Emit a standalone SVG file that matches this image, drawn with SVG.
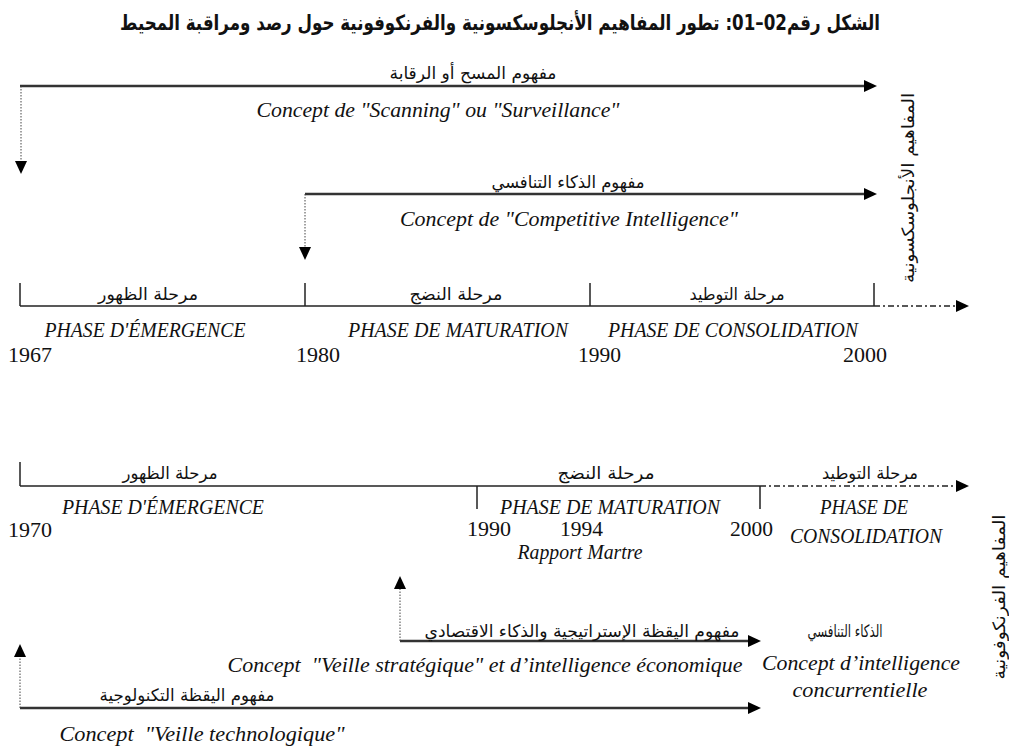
<svg xmlns="http://www.w3.org/2000/svg" width="1009" height="749" viewBox="0 0 1009 749">
<style>
  .ar { font-family: "DejaVu Sans", sans-serif; font-size: 17px; fill: #111; direction: rtl; text-anchor: middle; }
  .title { font-size: 21px; font-weight: bold; }
  .it { font-family: "Liberation Serif", serif; font-style: italic; font-size: 22px; fill: #111; text-anchor: middle; }
  .yr { font-family: "Liberation Serif", serif; font-size: 21px; fill: #111; }
  .axis { stroke: #222; stroke-width: 1.5; fill: none; }
  .arrow { stroke: #333; stroke-width: 2.5; fill: none; }
  .dot { stroke: #444; stroke-width: 1; stroke-dasharray: 1.5 1.5; fill: none; }
  .dashdot { stroke: #222; stroke-width: 1.5; stroke-dasharray: 6 3 2 3; fill: none; }
</style>
<defs>
  <marker id="ah" markerUnits="userSpaceOnUse" markerWidth="14" markerHeight="14" refX="0" refY="6" orient="auto">
    <path d="M0,0 L13,6 L0,12 z" fill="#000"/>
  </marker>
</defs>

<g id="title">
  <text class="ar title" x="500" y="30" textLength="760" lengthAdjust="spacingAndGlyphs">الشكل رقم02–01: تطور المفاهيم الأنجلوسكسونية والفرنكوفونية حول رصد ومراقبة المحيط</text>
</g>

<g id="connectors">
  <line class="arrow" x1="20" y1="86" x2="864" y2="86" marker-end="url(#ah)"/>
  <line class="dot" x1="21" y1="86" x2="21" y2="161" marker-end="url(#ah)"/>
  <line class="arrow" x1="305" y1="194" x2="864" y2="194" marker-end="url(#ah)"/>
  <line class="dot" x1="305" y1="194" x2="305" y2="247" marker-end="url(#ah)"/>
  <line class="axis" x1="20" y1="306" x2="874" y2="306"/>
  <line class="axis" x1="20" y1="283" x2="20" y2="306"/>
  <line class="axis" x1="305" y1="283" x2="305" y2="306"/>
  <line class="axis" x1="590" y1="283" x2="590" y2="306"/>
  <line class="axis" x1="874" y1="283" x2="874" y2="306"/>
  <line class="dashdot" x1="874" y1="306" x2="956" y2="306" marker-end="url(#ah)"/>
  <line class="axis" x1="20" y1="486" x2="760" y2="486"/>
  <line class="axis" x1="20" y1="462" x2="20" y2="486"/>
  <line class="axis" x1="477" y1="486" x2="477" y2="509"/>
  <line class="axis" x1="760" y1="486" x2="760" y2="509"/>
  <line class="dashdot" x1="760" y1="486" x2="956" y2="486" marker-end="url(#ah)"/>
  <line class="arrow" x1="400" y1="641" x2="748" y2="641" marker-end="url(#ah)"/>
  <line class="dot" x1="400" y1="641" x2="400" y2="589" marker-end="url(#ah)"/>
  <line class="arrow" x1="20" y1="708" x2="748" y2="708" marker-end="url(#ah)"/>
  <line class="dot" x1="20" y1="708" x2="20" y2="657" marker-end="url(#ah)"/>
</g>

<g id="concept-scanning">
  <text class="ar" x="473" y="79" textLength="167" lengthAdjust="spacingAndGlyphs">مفهوم المسح أو الرقابة</text>
  <text class="it" x="438" y="117" textLength="363" lengthAdjust="spacingAndGlyphs">Concept de "Scanning" ou "Surveillance"</text>
</g>

<g id="concept-competitive">
  <text class="ar" x="568" y="188" textLength="153" lengthAdjust="spacingAndGlyphs">مفهوم الذكاء التنافسي</text>
  <text class="it" x="569" y="226" textLength="338" lengthAdjust="spacingAndGlyphs">Concept de "Competitive Intelligence"</text>
</g>

<g id="anglo-label">
  <text class="ar" font-size="17" transform="translate(914,188) rotate(-90)" x="0" y="0" textLength="190" lengthAdjust="spacingAndGlyphs">المفاهيم الأنجلوسكسونية</text>
</g>

<g id="timeline1-emergence">
  <text class="ar" x="148" y="300" textLength="100" lengthAdjust="spacingAndGlyphs">مرحلة الظهور</text>
  <text class="it" x="145" y="337" textLength="201" lengthAdjust="spacingAndGlyphs">PHASE D'ÉMERGENCE</text>
  <text class="yr" x="8" y="362" textLength="44" lengthAdjust="spacingAndGlyphs">1967</text>
</g>
<g id="timeline1-maturation">
  <text class="ar" x="456" y="300" textLength="93" lengthAdjust="spacingAndGlyphs">مرحلة النضج</text>
  <text class="it" x="458" y="337" textLength="220" lengthAdjust="spacingAndGlyphs">PHASE DE MATURATION</text>
  <text class="yr" x="296" y="362" textLength="44" lengthAdjust="spacingAndGlyphs">1980</text>
</g>
<g id="timeline1-consolidation">
  <text class="ar" x="737" y="300" textLength="95" lengthAdjust="spacingAndGlyphs">مرحلة التوطيد</text>
  <text class="it" x="733" y="337" textLength="250" lengthAdjust="spacingAndGlyphs">PHASE DE CONSOLIDATION</text>
  <text class="yr" x="578" y="362" textLength="43" lengthAdjust="spacingAndGlyphs">1990</text>
  <text class="yr" x="843" y="362" textLength="44" lengthAdjust="spacingAndGlyphs">2000</text>
</g>

<g id="timeline2-emergence">
  <text class="ar" x="170" y="479" textLength="95" lengthAdjust="spacingAndGlyphs">مرحلة الظهور</text>
  <text class="it" x="163" y="514" textLength="202" lengthAdjust="spacingAndGlyphs">PHASE D'ÉMERGENCE</text>
  <text class="yr" x="8" y="537" textLength="44" lengthAdjust="spacingAndGlyphs">1970</text>
</g>
<g id="timeline2-maturation">
  <text class="ar" x="606" y="479" textLength="97" lengthAdjust="spacingAndGlyphs">مرحلة النضج</text>
  <text class="it" x="610" y="514" textLength="220" lengthAdjust="spacingAndGlyphs">PHASE DE MATURATION</text>
  <text class="yr" x="467" y="536" textLength="44" lengthAdjust="spacingAndGlyphs">1990</text>
  <text class="yr" x="560" y="536" textLength="43" lengthAdjust="spacingAndGlyphs">1994</text>
  <text class="it" font-size="18" x="580" y="559" textLength="125" lengthAdjust="spacingAndGlyphs">Rapport Martre</text>
  <text class="yr" x="730" y="536" textLength="43" lengthAdjust="spacingAndGlyphs">2000</text>
</g>
<g id="timeline2-consolidation">
  <text class="ar" x="870" y="479" textLength="96" lengthAdjust="spacingAndGlyphs">مرحلة التوطيد</text>
  <text class="it" x="864" y="514" textLength="88" lengthAdjust="spacingAndGlyphs">PHASE DE</text>
  <text class="it" x="866" y="543" textLength="152" lengthAdjust="spacingAndGlyphs">CONSOLIDATION</text>
</g>

<g id="concept-veille-strategique">
  <text class="ar" x="582" y="637" textLength="315" lengthAdjust="spacingAndGlyphs">مفهوم اليقظة الإستراتيجية والذكاء الاقتصادي</text>
  <text class="it" xml:space="preserve" x="485" y="672" textLength="515" lengthAdjust="spacingAndGlyphs">Concept  "Veille stratégique" et d’intelligence économique</text>
</g>

<g id="concept-intelligence-concurrentielle">
  <text class="ar" x="845" y="637" textLength="75" lengthAdjust="spacingAndGlyphs">الذكاء التنافسي</text>
  <text class="it" x="861" y="670" textLength="198" lengthAdjust="spacingAndGlyphs">Concept d’intelligence</text>
  <text class="it" x="860" y="697" textLength="135" lengthAdjust="spacingAndGlyphs">concurrentielle</text>
</g>

<g id="concept-veille-technologique">
  <text class="ar" x="187" y="701" textLength="175" lengthAdjust="spacingAndGlyphs">مفهوم اليقظة التكنولوجية</text>
  <text class="it" xml:space="preserve" x="202" y="741" textLength="285" lengthAdjust="spacingAndGlyphs">Concept  "Veille technologique"</text>
</g>

<g id="franco-label">
  <text class="ar" font-size="17" transform="translate(1005,597) rotate(-90)" x="0" y="0" textLength="165" lengthAdjust="spacingAndGlyphs">المفاهيم الفرنكوفونية</text>
</g>
</svg>
